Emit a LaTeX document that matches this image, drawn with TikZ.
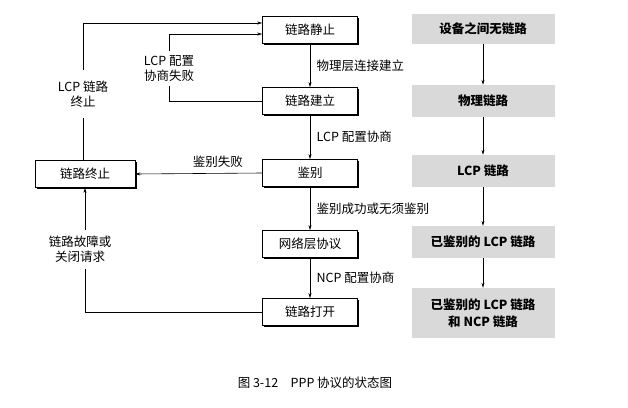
\documentclass[tikz,border=0pt]{standalone}
\usepackage{fontspec}
\setmainfont{Liberation Serif}
\newfontfamily\cjk{Noto Sans CJK SC}
\usetikzlibrary{arrows.meta,shadows}
\begin{document}
\begin{tikzpicture}[x=1pt,y=-1pt,
  font=\cjk\fontsize{12.5}{15}\selectfont,
  box/.style={draw,line width=0.7pt,minimum width=95pt,minimum height=27pt,fill=white,
    drop shadow={shadow xshift=1.5pt,shadow yshift=-1.5pt,fill=black,opacity=1}},
  gbox/.style={fill=black!15,minimum width=143pt,inner sep=2pt,font=\cjk\bfseries\fontsize{12.5}{17}\selectfont,align=center},
  arr/.style={-{Stealth[length=5pt,width=3pt]},line width=0.6pt},
  lab/.style={font=\cjk\fontsize{12.5}{15}\selectfont,align=center}]
\useasboundingbox (0,0) rectangle (628,407);
\node[box] (s) at (310,30) {链路静止};
\node[box] (e) at (310,101) {链路建立};
\node[box] (a) at (310,173) {鉴别};
\node[box] (n) at (310,244) {网络层协议};
\node[box] (o) at (310,312) {链路打开};
\node[box,minimum width=100pt] (t) at (85,174) {链路终止};
\draw[arr] (s) -- node[lab,right=3pt]{物理层连接建立} (e);
\draw[arr] (e) -- node[lab,right=3pt]{LCP 配置协商} (a);
\draw[arr] (a) -- node[lab,right=3pt]{鉴别成功或无须鉴别} (n);
\draw[arr] (n) -- node[lab,right=3pt]{NCP 配置协商} (o);
\draw[arr] (a.west) -- node[lab,above=2pt,pos=0.35]{鉴别失败} (t.east);
\coordinate (c1) at (169,101);
\coordinate (c2) at (169,34);
\draw[line width=0.6pt] (e.west) -- (c1) -- (169,86);
\draw[arr] (169,51) -- (c2) -- (s.west |- c2);
\node[lab] at (169,68) {LCP 配置\\协商失败};
\coordinate (c3) at (83,23);
\draw[line width=0.6pt] (t.north -| c3) -- (83,118);
\draw[arr] (83,70) -- (c3) -- (s.west |- c3);
\node[lab] at (83,94) {LCP 链路\\终止};
\coordinate (c4) at (85,312);
\draw[line width=0.6pt] (o.west) -- (c4) -- (85,269);
\draw[arr] (85,230) -- (t.south);
\node[lab] at (80,249) {链路故障或\\关闭请求};
\node[gbox,minimum height=30pt] (g1) at (483,29) {设备之间无链路};
\node[gbox,minimum height=32pt] (g2) at (483,101) {物理链路};
\node[gbox,minimum height=32pt] (g3) at (483,171) {LCP 链路};
\node[gbox,minimum height=32pt] (g4) at (483,242) {已鉴别的 LCP 链路};
\node[gbox,minimum height=50pt] (g5) at (483,313) {已鉴别的 LCP 链路\\和 NCP 链路};
\draw[arr] (g1) -- (g2);
\draw[arr] (g2) -- (g3);
\draw[arr] (g3) -- (g4);
\draw[arr] (g4) -- (g5);
\node[lab] (cap) at (315,383) {图 3-12\quad PPP 协议的状态图};
\end{tikzpicture}
\end{document}
